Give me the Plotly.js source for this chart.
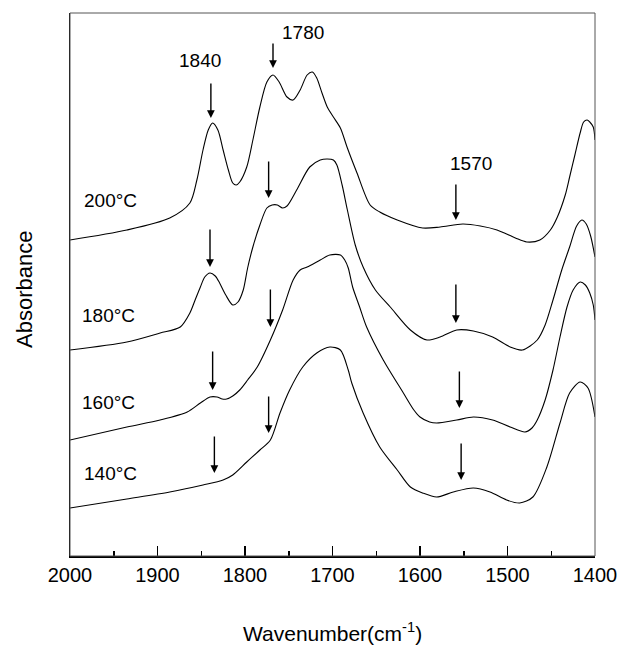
<!DOCTYPE html>
<html>
<head>
<meta charset="utf-8">
<script src="https://cdn.plot.ly/plotly-3.0.1.min.js"></script>
<style>html,body{margin:0;padding:0;background:#fff;}#chart{width:622px;height:650px;}</style>
</head>
<body>
<div id="chart"></div>
<script>
// Wavenumber (cm-1) and absorbance (arbitrary units, offset stacked)
const wn200 = [2000,1935,1886,1863,1855,1848,1842,1837,1831,1825,1819,1814,1810,1806,1798,1791,1783,1775,1768,1761,1752,1745,1737,1729,1723,1718,1712,1706,1699,1691,1683,1672,1657,1646,1626,1597,1577,1551,1531,1512,1491,1478,1463,1451,1443,1434,1429,1423,1417,1413,1409,1406,1402,1400];
const ab200 = [3.16,3.26,3.38,3.53,3.76,4.06,4.26,4.33,4.26,4.06,3.86,3.73,3.71,3.74,3.89,4.16,4.49,4.74,4.81,4.74,4.59,4.56,4.66,4.81,4.84,4.78,4.63,4.49,4.39,4.28,4.08,3.83,3.51,3.44,3.36,3.28,3.29,3.32,3.30,3.26,3.18,3.14,3.16,3.26,3.39,3.61,3.79,4.01,4.23,4.34,4.36,4.34,4.29,4.16];

const wn180 = [2000,1935,1897,1874,1863,1857,1851,1846,1840,1834,1829,1822,1814,1808,1802,1797,1791,1783,1775,1769,1763,1757,1752,1741,1726,1714,1706,1699,1695,1689,1683,1674,1665,1651,1634,1611,1592,1577,1558,1539,1517,1497,1483,1466,1457,1448,1438,1429,1421,1415,1410,1405,1400];
const ab180 = [2.06,2.14,2.23,2.29,2.43,2.56,2.69,2.79,2.83,2.80,2.73,2.61,2.51,2.54,2.66,2.88,3.09,3.31,3.48,3.51,3.51,3.48,3.50,3.66,3.89,3.96,3.97,3.96,3.91,3.71,3.46,3.11,2.89,2.66,2.49,2.26,2.16,2.19,2.26,2.25,2.19,2.09,2.06,2.16,2.31,2.56,2.86,3.09,3.30,3.36,3.32,3.20,2.99];

const wn160 = [2000,1935,1897,1866,1851,1840,1832,1826,1821,1814,1806,1797,1786,1771,1757,1745,1737,1729,1714,1703,1691,1686,1682,1677,1669,1661,1642,1619,1607,1600,1589,1581,1558,1539,1517,1497,1480,1472,1466,1457,1448,1440,1432,1425,1417,1411,1406,1402,1400];
const ab160 = [1.16,1.29,1.36,1.44,1.53,1.59,1.59,1.57,1.57,1.60,1.66,1.76,1.89,2.16,2.46,2.76,2.86,2.89,2.96,3.01,3.01,2.96,2.88,2.69,2.49,2.29,1.96,1.63,1.46,1.39,1.34,1.33,1.36,1.39,1.36,1.29,1.24,1.28,1.36,1.56,1.86,2.19,2.49,2.66,2.74,2.71,2.63,2.51,2.36];

const wn140 = [2000,1935,1886,1848,1825,1814,1798,1783,1771,1760,1749,1734,1718,1703,1691,1682,1678,1665,1646,1626,1611,1597,1581,1562,1539,1520,1501,1486,1471,1455,1440,1429,1417,1408,1400];
const ab140 = [0.48,0.57,0.64,0.71,0.76,0.81,0.94,1.06,1.16,1.43,1.66,1.89,2.03,2.09,2.06,1.86,1.73,1.43,1.09,0.86,0.69,0.63,0.59,0.64,0.68,0.64,0.56,0.53,0.59,0.89,1.33,1.63,1.74,1.68,1.39];

const tempLabels = ["200°C","180°C","160°C","140°C"];
const tempLabelWn = [1954,1956,1956,1954];
const tempLabelAb = [3.56,2.41,1.54,0.83];

const peakLabels = ["1840","1780","1570"];
const peakLabelWn = [1852,1734,1542];
const peakLabelAb = [4.96,5.24,3.93];

// arrows: tip wavenumber, tip absorbance, tail absorbance
const arrowWn  = [1839,1768,1559, 1840,1773,1559, 1837,1771,1555, 1835,1773,1553];
const arrowTip = [4.38,4.88,3.36, 2.89,3.58,2.33, 1.66,2.29,1.48, 0.83,1.23,0.76];
const arrowTail= [4.74,5.14,3.73, 3.28,3.96,2.73, 2.06,2.68,1.86, 1.21,1.61,1.14];

const xTicks = [2000,1900,1800,1700,1600,1500,1400];

const lineStyle = {color:'#000', width:1.1, shape:'spline', smoothing:0.8};
const mk = (x,y,n)=>({x:x,y:y,type:'scatter',mode:'lines',line:lineStyle,name:n,hoverinfo:'skip'});
const data = [mk(wn200,ab200,'200'),mk(wn180,ab180,'180'),mk(wn160,ab160,'160'),mk(wn140,ab140,'140')];

const font = {family:'Liberation Sans, Arial, sans-serif', color:'#000'};
const annotations = [];
tempLabels.forEach((t,i)=>annotations.push({x:tempLabelWn[i],y:tempLabelAb[i],xref:'x',yref:'y',text:t,showarrow:false,font:Object.assign({size:19},font)}));
peakLabels.forEach((t,i)=>annotations.push({x:peakLabelWn[i],y:peakLabelAb[i],xref:'x',yref:'y',text:t,showarrow:false,font:Object.assign({size:19},font)}));
arrowWn.forEach((w,i)=>annotations.push({x:w,y:arrowTip[i],xref:'x',yref:'y',ax:w,ay:arrowTail[i],axref:'x',ayref:'y',text:'',showarrow:true,arrowhead:2,arrowsize:1.1,arrowwidth:1.4,arrowcolor:'#000',standoff:0}));
annotations.push({xref:'paper',yref:'paper',x:0,y:0.49,xanchor:'center',yanchor:'middle',xshift:-45,text:'Absorbance',textangle:-90,showarrow:false,font:Object.assign({size:22},font)});
annotations.push({xref:'paper',yref:'paper',x:0.5,y:0,xanchor:'center',yanchor:'middle',yshift:-76,text:'Wavenumber(cm<sup>-1</sup>)',showarrow:false,font:Object.assign({size:21},font)});

const layout = {
  width:622,height:650,
  margin:{l:70,r:27,t:13,b:94},
  paper_bgcolor:'#fff',plot_bgcolor:'#fff',
  showlegend:false,
  xaxis:{range:[2000,1400],tickvals:xTicks,ticks:'inside',ticklen:10,tickwidth:1.5,tickcolor:'#000',
    minor:{dtick:50,tick0:2000,ticks:'inside',ticklen:5,tickwidth:1.5,tickcolor:'#000',showgrid:false},
    showline:true,linewidth:2,linecolor:'#000',showgrid:false,zeroline:false,
    tickfont:Object.assign({size:20},font)},
  yaxis:{range:[0,5.43],showticklabels:false,ticks:'',showgrid:false,zeroline:false,showline:true,linewidth:1,linecolor:'#000'},
  shapes:[{type:'rect',xref:'paper',yref:'paper',x0:0,x1:1,y0:0,y1:1,line:{color:'#555',width:1}}],
  annotations:annotations
};
Plotly.newPlot('chart',data,layout,{staticPlot:true});
</script>
</body>
</html>
